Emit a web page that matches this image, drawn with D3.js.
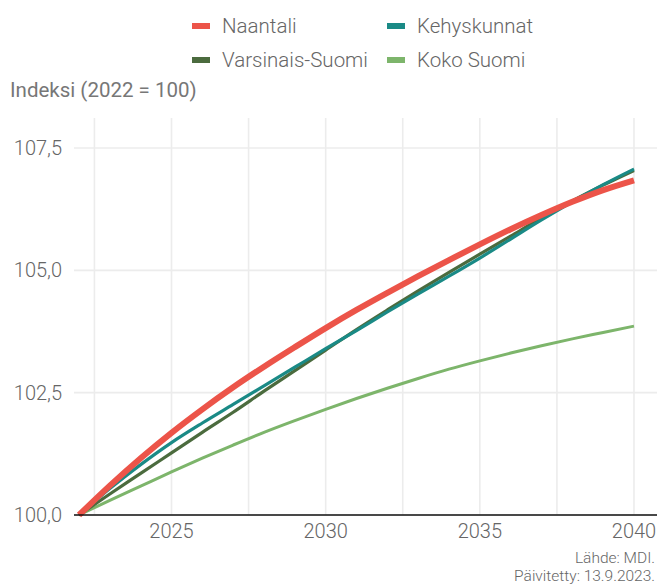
<!DOCTYPE html>
<html>
<head>
<meta charset="utf-8">
<title>Väestöindeksi</title>
<script src="https://d3js.org/d3.v7.min.js"></script>
<style>
body { margin: 0; background: #fff; }
.tick-txt { font-family: Roboto, sans-serif; font-weight: 300; fill: #666; }
</style>
</head>
<body>
<script>
// data
var years = [2022, 2023, 2024, 2025, 2026, 2027, 2028, 2029, 2030, 2031,
             2032, 2033, 2034, 2035, 2036, 2037, 2038, 2039, 2040];
var naantali = [100.00, 100.60, 101.16, 101.68, 102.16, 102.61, 103.03, 103.43, 103.82, 104.19,
                104.54, 104.88, 105.21, 105.53, 105.84, 106.13, 106.40, 106.64, 106.84];
var kehyskunnat = [100.00, 100.54, 101.03, 101.48, 101.88, 102.26, 102.64, 103.02, 103.40, 103.77,
                   104.15, 104.52, 104.88, 105.25, 105.64, 106.03, 106.40, 106.75, 107.07];
var varsinaisSuomi = [100.00, 100.43, 100.85, 101.27, 101.69, 102.10, 102.53, 102.95, 103.37, 103.79,
                      104.19, 104.58, 104.96, 105.33, 105.70, 106.07, 106.42, 106.74, 107.04];
var kokoSuomi = [100.00, 100.30, 100.59, 100.88, 101.16, 101.43, 101.69, 101.93, 102.16, 102.38,
                 102.59, 102.79, 102.98, 103.15, 103.31, 103.46, 103.60, 103.73, 103.86];

var seriesNames = ["Naantali", "Kehyskunnat", "Varsinais-Suomi", "Koko Suomi"];
var seriesValues = [naantali, kehyskunnat, varsinaisSuomi, kokoSuomi];
var xTicks = [2025, 2030, 2035, 2040];
var xMinor = [2022.5, 2027.5, 2032.5, 2037.5];
var yTicks = [100, 102.5, 105, 107.5];

var colors = ["#ec5449", "#1a8a86", "#4b6b3e", "#7db56b"];
var widths = [6, 3.2, 3.2, 3];

var w = 657, h = 585;
var svg = d3.select("body").append("svg")
  .attr("width", w)
  .attr("height", h);

var panelLeft = 74, panelRight = 657, panelTop = 118, panelBottom = 515;

var x = d3.scaleLinear().domain([2022, 2040]).range([79, 634]);
var y = d3.scaleLinear().domain([100, 107.5]).range([515, 148]);

var fi = d3.formatLocale({decimal: ",", thousands: " ", grouping: [3], currency: ["", "€"]});
var fmt = fi.format(".1f");

// grid
var grid = svg.append("g");
grid.selectAll(".gx")
  .data(xMinor.concat(xTicks))
  .enter().append("line")
  .attr("x1", function(d) { return x(d); })
  .attr("x2", function(d) { return x(d); })
  .attr("y1", panelTop)
  .attr("y2", panelBottom)
  .attr("stroke", "#ececec")
  .attr("stroke-width", 1.6);
grid.selectAll(".gy")
  .data(yTicks)
  .enter().append("line")
  .attr("x1", panelLeft)
  .attr("x2", panelRight)
  .attr("y1", function(d) { return y(d); })
  .attr("y2", function(d) { return y(d); })
  .attr("stroke", "#ececec")
  .attr("stroke-width", 1.6);

// lines, light ones first so the thick Naantali line sits on top
var line = d3.line()
  .x(function(d, i) { return x(years[i]); })
  .y(function(d) { return y(d); })
  .curve(d3.curveMonotoneX);

var order = [3, 2, 1, 0];
svg.append("g").selectAll("path")
  .data(order)
  .enter().append("path")
  .attr("d", function(k) { return line(seriesValues[k]); })
  .attr("fill", "none")
  .attr("stroke", function(k) { return colors[k]; })
  .attr("stroke-width", function(k) { return widths[k]; })
  .attr("stroke-linejoin", "round");

// x axis line
svg.append("line")
  .attr("x1", panelLeft).attr("x2", panelRight)
  .attr("y1", panelBottom).attr("y2", panelBottom)
  .attr("stroke", "#111").attr("stroke-width", 1.5);

// tick labels
svg.append("g").selectAll("text")
  .data(xTicks)
  .enter().append("text")
  .attr("class", "tick-txt")
  .attr("x", function(d) { return x(d); })
  .attr("y", 538)
  .attr("text-anchor", "middle")
  .attr("font-size", 20)
  .text(function(d) { return d; });

svg.append("g").selectAll("text")
  .data(yTicks)
  .enter().append("text")
  .attr("class", "tick-txt")
  .attr("x", 62)
  .attr("y", function(d) { return y(d) + 7; })
  .attr("text-anchor", "end")
  .attr("font-size", 20)
  .text(function(d) { return fmt(d); });

// axis title
svg.append("text")
  .attr("x", 10).attr("y", 97)
  .attr("font-family", "Roboto, sans-serif")
  .attr("font-weight", 400)
  .attr("font-size", 20.5)
  .attr("fill", "#777")
  .text("Indeksi (2022 = 100)");

// legend
var legendPos = [[192, 26], [387, 26], [192, 60], [387, 60]];
var legend = svg.append("g").selectAll("g")
  .data(seriesNames)
  .enter().append("g")
  .attr("transform", function(d, i) { return "translate(" + legendPos[i][0] + "," + legendPos[i][1] + ")"; });
legend.append("rect")
  .attr("x", 0).attr("y", -3)
  .attr("width", 18).attr("height", 6)
  .attr("fill", function(d, i) { return colors[i]; });
legend.append("text")
  .attr("class", "tick-txt")
  .attr("x", 30).attr("y", 7)
  .attr("font-size", 20.5)
  .text(function(d) { return d; });

// source
svg.append("text")
  .attr("class", "tick-txt")
  .attr("x", 655).attr("y", 563)
  .attr("text-anchor", "end")
  .attr("font-size", 15.5)
  .text("Lähde: MDI.");
svg.append("text")
  .attr("class", "tick-txt")
  .attr("x", 655).attr("y", 580.5)
  .attr("text-anchor", "end")
  .attr("font-size", 15.5)
  .text("Päivitetty: 13.9.2023.");
</script>
</body>
</html>
